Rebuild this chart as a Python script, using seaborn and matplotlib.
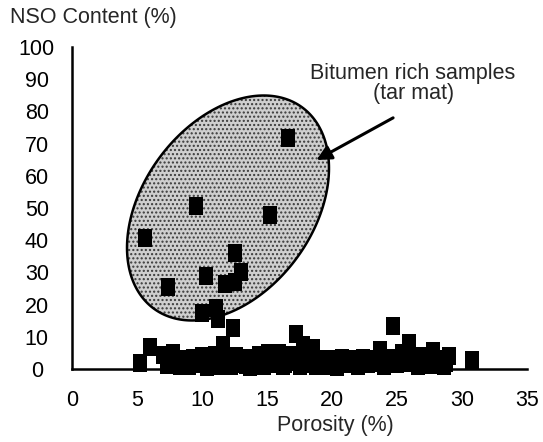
import numpy as np
import pandas as pd
import matplotlib
matplotlib.use("Agg")
import matplotlib.pyplot as plt
import seaborn as sns
from matplotlib.path import Path
from matplotlib.markers import MarkerStyle
from matplotlib.patches import Polygon

# ---- data ----
rich_x = [16.6, 9.5, 15.2, 5.6, 12.5, 10.3, 13.0, 11.8, 12.5, 7.4, 10.0, 11.1, 11.2, 12.4]
rich_y = [71.6, 50.6, 47.8, 40.6, 35.9, 29.0, 30.2, 26.5, 27.0, 25.6, 17.3, 19.0, 15.5, 12.7]

band_x = [5.2, 6.0, 7.0, 7.5, 7.8, 8.3, 8.6, 9.0, 9.3, 9.7, 10.0, 10.4, 10.7, 11.0, 11.3,
          11.6, 11.9, 12.2, 12.6, 13.0, 13.3, 13.7, 14.0, 14.4, 14.8, 15.1, 15.5, 15.9,
          16.2, 16.5, 16.9, 17.2, 17.5, 17.8, 18.2, 18.5, 18.8, 19.2, 19.6, 20.0, 20.4,
          20.8, 21.2, 21.6, 22.0, 22.4, 22.8, 23.2, 23.7, 24.0, 24.3, 24.7, 25.0, 25.4,
          25.9, 26.2, 26.6, 27.0, 27.4, 27.8, 28.2, 28.6, 29.0, 30.8,
          7.3, 7.9, 8.5, 9.1, 9.6, 10.2, 10.8, 11.4, 12.0, 12.8, 13.4, 14.1, 14.7, 15.3,
          15.8, 16.4, 17.0, 17.6, 18.3, 18.9, 19.5, 20.1, 20.7, 21.3, 21.9, 22.5, 23.1,
          23.6, 24.2, 24.8, 25.3, 25.8, 26.4, 27.1, 27.6, 28.3, 28.8]
band_y = [1.9, 6.8, 4.5, 2.0, 5.0, 1.0, 3.0, 0.8, 3.5, 1.5, 4.0, 0.5, 2.5, 4.5, 1.0,
          7.5, 3.0, 0.8, 4.0, 1.5, 3.5, 0.5, 2.5, 4.5, 1.0, 5.0, 2.5, 5.0,
          0.8, 3.0, 4.5, 10.9, 1.0, 7.5, 3.5, 6.5, 0.8, 2.5, 1.0, 3.0, 0.5,
          3.5, 1.5, 3.0, 0.8, 3.5, 1.5, 3.0, 6.0, 0.8, 3.5, 13.3, 1.5, 5.0,
          8.0, 2.5, 0.8, 4.0, 1.5, 5.5, 2.0, 0.8, 4.0, 2.7,
          1.2, 2.8, 2.0, 2.2, 3.0, 1.8, 1.5, 2.5, 1.8, 2.6, 1.2, 3.2, 2.6, 1.5,
          2.0, 1.6, 2.2, 3.0, 1.5, 2.4, 3.2, 1.5, 2.0, 2.8, 2.2, 1.5, 2.0,
          2.6, 1.5, 2.2, 3.0, 1.8, 2.0, 2.4, 1.2, 3.0, 1.8]

x_ticks = [0, 5, 10, 15, 20, 25, 30, 35]
y_ticks = [0, 10, 20, 30, 40, 50, 60, 70, 80, 90, 100]

df = pd.DataFrame({"porosity": rich_x + band_x, "nso": rich_y + band_y})

# ---- style ----
sns.set_style("white")
plt.rcParams["font.family"] = ["Liberation Sans", "DejaVu Sans"]
FS = 15.5

fig = plt.figure(figsize=(5.43, 4.42), dpi=100)
W, H = 543, 442
ax = fig.add_axes([72 / W, 73 / H, 455 / W, 322 / H])
ax.set_xlim(0, 35)
ax.set_ylim(0, 100)

# ---- ellipse (annotation shape) ----
px_x = 455 / 35.0
px_y = 322 / 100.0
cx, cy = 12.0, 50.0
a, b, th = 125.0, 85.0, np.deg2rad(53.5)
t = np.linspace(0, 2 * np.pi, 300)
dx = a * np.cos(t) * np.cos(th) - b * np.sin(t) * np.sin(th)
dy = a * np.cos(t) * np.sin(th) + b * np.sin(t) * np.cos(th)
pts = np.column_stack([cx + dx / px_x, cy + dy / px_y])
ax.add_patch(Polygon(pts, closed=True, facecolor="#cfcfcf", edgecolor="#3a3a3a",
                     hatch="....", linewidth=0, zorder=1))
ax.add_patch(Polygon(pts, closed=True, fill=False, edgecolor="black",
                     linewidth=1.8, zorder=1.5))

# ---- points ----
verts = [(-0.4, -0.5), (0.4, -0.5), (0.4, 0.5), (-0.4, 0.5), (-0.4, -0.5)]
mk = MarkerStyle(Path(verts, closed=True))
sns.scatterplot(data=df, x="porosity", y="nso", ax=ax, marker=mk, s=150,
                color="black", edgecolor="black", linewidth=0, clip_on=False,
                zorder=3, legend=False)

# ---- annotation ----
ax.annotate("", xy=(18.8, 64.9), xytext=(24.7, 78.0),
            arrowprops=dict(arrowstyle="-|>", lw=2.2, color="black",
                            mutation_scale=22, shrinkA=0, shrinkB=0), zorder=4)
ax.text(26.2, 91.9, "Bitumen rich samples", ha="center", va="center", fontsize=FS)
ax.text(26.3, 85.7, "(tar mat)", ha="center", va="center", fontsize=FS)

# ---- axes styling ----
for s in ["top", "right"]:
    ax.spines[s].set_visible(False)
for s in ["left", "bottom"]:
    ax.spines[s].set_linewidth(1.8)
    ax.spines[s].set_color("black")
ax.set_xticks(x_ticks)
ax.set_yticks(y_ticks)
ax.tick_params(axis="both", direction="out", length=5.8, width=1.6, color="black",
               labelsize=FS, labelcolor="black")
ax.tick_params(axis="x", pad=9)
ax.tick_params(axis="y", pad=19.5)
for lab in ax.get_yticklabels():
    lab.set_horizontalalignment("center")

ax.set_xlabel("Porosity (%)", fontsize=FS, labelpad=3)
ax.xaxis.set_label_coords((335.5 - 72) / 455, -(425 - 369) / 322)
ax.xaxis.label.set_va("center")
ax.set_ylabel("")
fig.text(10 / W, 1 - 18 / H, "NSO Content (%)", ha="left", va="center", fontsize=FS)

fig.savefig("out.png", dpi=100)
